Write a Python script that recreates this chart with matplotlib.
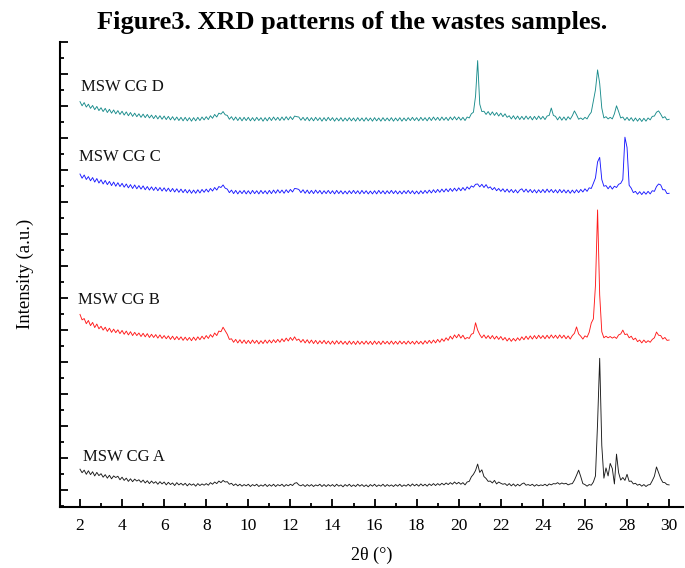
import numpy as np
import matplotlib
matplotlib.use("Agg")
import matplotlib.pyplot as plt
from matplotlib.ticker import MultipleLocator, NullFormatter

plt.rcParams['font.family'] = ['Liberation Serif', 'DejaVu Serif']

# 2-theta sampling (degrees), 2.0 ... 30.0 every 0.1
two_theta = np.round(np.linspace(2.0, 30.0, 281), 2)

sample_names = ["MSW CG A", "MSW CG B", "MSW CG C", "MSW CG D"]
line_colors = ["#1a1a1a", "#ff1a1a", "#1a1aff", "#1a8c8c"]

# Intensities (a.u., stacked as displayed)
msw_cg_a = [
    0.66, 0.55, 0.63, 0.50, 0.61, 0.49, 0.58, 0.45, 0.56, 0.46,
    0.52, 0.41, 0.49, 0.38, 0.47, 0.36, 0.45, 0.40, 0.44, 0.33,
    0.41, 0.31, 0.38, 0.28, 0.36, 0.27, 0.35, 0.29, 0.33, 0.25,
    0.32, 0.23, 0.30, 0.21, 0.29, 0.22, 0.27, 0.19, 0.27, 0.20,
    0.26, 0.17, 0.25, 0.18, 0.23, 0.15, 0.24, 0.17, 0.22, 0.16,
    0.22, 0.14, 0.21, 0.16, 0.20, 0.13, 0.21, 0.15, 0.20, 0.16,
    0.21, 0.16, 0.24, 0.19, 0.26, 0.21, 0.29, 0.24, 0.31, 0.26,
    0.27, 0.19, 0.22, 0.15, 0.20, 0.14, 0.19, 0.13, 0.18, 0.14,
    0.19, 0.12, 0.18, 0.14, 0.19, 0.12, 0.17, 0.13, 0.19, 0.12,
    0.18, 0.13, 0.19, 0.12, 0.18, 0.14, 0.19, 0.12, 0.18, 0.14,
    0.19, 0.15, 0.22, 0.24, 0.17, 0.14, 0.18, 0.12, 0.18, 0.13,
    0.18, 0.12, 0.17, 0.14, 0.19, 0.12, 0.18, 0.12, 0.18, 0.13,
    0.18, 0.12, 0.19, 0.13, 0.17, 0.11, 0.18, 0.13, 0.19, 0.12,
    0.17, 0.12, 0.19, 0.13, 0.18, 0.12, 0.17, 0.11, 0.18, 0.13,
    0.19, 0.12, 0.17, 0.13, 0.19, 0.12, 0.18, 0.13, 0.17, 0.12,
    0.18, 0.13, 0.19, 0.12, 0.17, 0.13, 0.19, 0.13, 0.20, 0.14,
    0.19, 0.13, 0.20, 0.14, 0.19, 0.13, 0.20, 0.15, 0.21, 0.15,
    0.21, 0.16, 0.22, 0.17, 0.23, 0.18, 0.24, 0.19, 0.26, 0.20,
    0.25, 0.19, 0.24, 0.17, 0.26, 0.28, 0.42, 0.50, 0.62, 0.82,
    0.56, 0.64, 0.43, 0.37, 0.28, 0.29, 0.23, 0.31, 0.20, 0.26,
    0.22, 0.19, 0.21, 0.15, 0.21, 0.14, 0.20, 0.13, 0.19, 0.14,
    0.20, 0.23, 0.16, 0.18, 0.15, 0.19, 0.13, 0.18, 0.14, 0.17,
    0.15, 0.19, 0.14, 0.20, 0.17, 0.21, 0.20, 0.24, 0.19, 0.23,
    0.20, 0.22, 0.17, 0.20, 0.21, 0.32, 0.47, 0.63, 0.43, 0.21,
    0.18, 0.13, 0.18, 0.16, 0.26, 0.45, 2.10, 4.12, 1.40, 0.38,
    0.70, 0.45, 0.84, 0.68, 0.20, 1.13, 0.55, 0.32, 0.40, 0.31,
    0.50, 0.28, 0.29, 0.20, 0.22, 0.16, 0.19, 0.13, 0.18, 0.12,
    0.17, 0.18, 0.30, 0.44, 0.73, 0.55, 0.37, 0.25, 0.24, 0.18,
    0.17,
]

msw_cg_b = [
    5.49, 5.32, 5.36, 5.20, 5.30, 5.14, 5.24, 5.08, 5.19, 5.04,
    5.12, 5.00, 5.09, 4.96, 5.06, 4.93, 5.03, 4.92, 5.01, 4.89,
    4.99, 4.87, 4.97, 4.85, 4.95, 4.83, 4.93, 4.83, 4.91, 4.80,
    4.90, 4.79, 4.89, 4.77, 4.87, 4.77, 4.86, 4.75, 4.85, 4.74,
    4.83, 4.73, 4.82, 4.71, 4.81, 4.70, 4.80, 4.70, 4.79, 4.68,
    4.78, 4.68, 4.77, 4.67, 4.78, 4.68, 4.79, 4.70, 4.81, 4.72,
    4.83, 4.74, 4.86, 4.78, 4.91, 4.83, 4.97, 4.95, 5.09, 4.98,
    4.87, 4.71, 4.73, 4.62, 4.71, 4.60, 4.70, 4.59, 4.69, 4.58,
    4.68, 4.58, 4.69, 4.59, 4.68, 4.57, 4.67, 4.58, 4.69, 4.59,
    4.69, 4.60, 4.70, 4.61, 4.71, 4.62, 4.73, 4.64, 4.75, 4.66,
    4.77, 4.68, 4.79, 4.68, 4.72, 4.62, 4.71, 4.60, 4.70, 4.59,
    4.69, 4.58, 4.68, 4.57, 4.67, 4.58, 4.68, 4.57, 4.66, 4.56,
    4.66, 4.56, 4.67, 4.57, 4.66, 4.56, 4.65, 4.55, 4.66, 4.56,
    4.65, 4.55, 4.66, 4.56, 4.65, 4.56, 4.66, 4.56, 4.65, 4.55,
    4.66, 4.56, 4.65, 4.55, 4.66, 4.57, 4.65, 4.56, 4.66, 4.56,
    4.65, 4.56, 4.66, 4.57, 4.65, 4.56, 4.66, 4.57, 4.65, 4.56,
    4.66, 4.57, 4.65, 4.56, 4.67, 4.58, 4.68, 4.59, 4.69, 4.60,
    4.71, 4.62, 4.73, 4.65, 4.76, 4.68, 4.81, 4.72, 4.85, 4.76,
    4.87, 4.75, 4.84, 4.72, 4.77, 4.74, 4.87, 4.90, 5.23, 5.00,
    4.86, 4.76, 4.85, 4.74, 4.83, 4.73, 4.83, 4.72, 4.81, 4.71,
    4.80, 4.69, 4.77, 4.66, 4.75, 4.65, 4.74, 4.66, 4.76, 4.68,
    4.79, 4.70, 4.81, 4.71, 4.82, 4.72, 4.83, 4.73, 4.84, 4.74,
    4.83, 4.73, 4.84, 4.74, 4.85, 4.75, 4.84, 4.74, 4.85, 4.75,
    4.84, 4.73, 4.82, 4.72, 4.83, 4.90, 5.10, 4.88, 4.81, 4.72,
    4.82, 4.78, 4.93, 5.22, 5.35, 6.40, 8.75, 6.10, 4.95, 4.76,
    4.81, 4.76, 4.80, 4.75, 4.79, 4.74, 4.85, 4.88, 5.00, 4.86,
    4.88, 4.76, 4.81, 4.70, 4.75, 4.64, 4.69, 4.60, 4.69, 4.61,
    4.67, 4.62, 4.71, 4.76, 4.94, 4.84, 4.83, 4.72, 4.77, 4.68,
    4.69,
]

msw_cg_c = [
    9.87, 9.74, 9.84, 9.70, 9.79, 9.66, 9.76, 9.62, 9.73, 9.59,
    9.69, 9.56, 9.67, 9.54, 9.64, 9.51, 9.62, 9.49, 9.60, 9.48,
    9.58, 9.46, 9.56, 9.44, 9.54, 9.42, 9.53, 9.41, 9.51, 9.40,
    9.50, 9.38, 9.48, 9.37, 9.47, 9.36, 9.46, 9.35, 9.45, 9.34,
    9.44, 9.33, 9.43, 9.32, 9.42, 9.31, 9.41, 9.30, 9.40, 9.29,
    9.39, 9.28, 9.38, 9.27, 9.37, 9.27, 9.38, 9.28, 9.39, 9.30,
    9.40, 9.31, 9.42, 9.34, 9.45, 9.37, 9.48, 9.45, 9.53, 9.43,
    9.40, 9.29, 9.37, 9.26, 9.36, 9.25, 9.35, 9.26, 9.36, 9.25,
    9.35, 9.25, 9.36, 9.26, 9.35, 9.25, 9.36, 9.26, 9.35, 9.25,
    9.36, 9.26, 9.37, 9.27, 9.38, 9.28, 9.37, 9.27, 9.38, 9.29,
    9.39, 9.31, 9.42, 9.41, 9.39, 9.29, 9.38, 9.27, 9.37, 9.26,
    9.36, 9.26, 9.37, 9.27, 9.36, 9.25, 9.35, 9.26, 9.36, 9.26,
    9.35, 9.25, 9.36, 9.26, 9.35, 9.25, 9.34, 9.25, 9.35, 9.26,
    9.36, 9.26, 9.35, 9.25, 9.36, 9.26, 9.35, 9.25, 9.34, 9.25,
    9.35, 9.25, 9.36, 9.26, 9.35, 9.25, 9.35, 9.26, 9.36, 9.26,
    9.35, 9.25, 9.34, 9.25, 9.35, 9.26, 9.36, 9.26, 9.35, 9.25,
    9.34, 9.25, 9.35, 9.26, 9.36, 9.27, 9.37, 9.28, 9.38, 9.29,
    9.39, 9.30, 9.40, 9.31, 9.41, 9.32, 9.42, 9.33, 9.43, 9.34,
    9.44, 9.35, 9.45, 9.36, 9.47, 9.40, 9.50, 9.46, 9.55, 9.56,
    9.47, 9.55, 9.45, 9.54, 9.43, 9.47, 9.38, 9.45, 9.35, 9.42,
    9.33, 9.41, 9.31, 9.40, 9.30, 9.39, 9.29, 9.38, 9.28, 9.37,
    9.41, 9.31, 9.40, 9.30, 9.39, 9.29, 9.38, 9.28, 9.38, 9.29,
    9.39, 9.29, 9.40, 9.30, 9.39, 9.29, 9.38, 9.28, 9.39, 9.29,
    9.38, 9.28, 9.37, 9.27, 9.37, 9.28, 9.38, 9.29, 9.39, 9.31,
    9.41, 9.33, 9.44, 9.42, 9.58, 9.75, 10.25, 10.39, 9.70, 9.49,
    9.51, 9.41, 9.50, 9.40, 9.49, 9.45, 9.55, 9.58, 9.70, 11.02,
    10.70, 9.52, 9.43, 9.29, 9.33, 9.24, 9.32, 9.23, 9.32, 9.24,
    9.33, 9.25, 9.35, 9.33, 9.48, 9.56, 9.53, 9.38, 9.38, 9.26,
    9.27,
]

msw_cg_d = [
    12.13, 12.00, 12.10, 11.96, 12.05, 11.92, 12.01, 11.88, 11.98, 11.85,
    11.94, 11.82, 11.92, 11.79, 11.89, 11.77, 11.87, 11.75, 11.85, 11.73,
    11.83, 11.71, 11.81, 11.69, 11.79, 11.67, 11.77, 11.66, 11.75, 11.64,
    11.74, 11.63, 11.73, 11.62, 11.71, 11.60, 11.70, 11.59, 11.69, 11.58,
    11.68, 11.57, 11.67, 11.56, 11.66, 11.55, 11.65, 11.54, 11.64, 11.53,
    11.64, 11.53, 11.63, 11.52, 11.63, 11.53, 11.64, 11.54, 11.65, 11.56,
    11.66, 11.57, 11.69, 11.61, 11.73, 11.65, 11.77, 11.74, 11.82, 11.72,
    11.70, 11.58, 11.66, 11.55, 11.65, 11.54, 11.64, 11.53, 11.64, 11.54,
    11.64, 11.53, 11.63, 11.53, 11.64, 11.54, 11.63, 11.52, 11.63, 11.53,
    11.64, 11.54, 11.65, 11.55, 11.64, 11.54, 11.65, 11.55, 11.66, 11.56,
    11.66, 11.57, 11.68, 11.66, 11.65, 11.55, 11.64, 11.54, 11.64, 11.53,
    11.63, 11.53, 11.64, 11.54, 11.63, 11.52, 11.63, 11.53, 11.64, 11.54,
    11.63, 11.52, 11.62, 11.53, 11.63, 11.52, 11.62, 11.53, 11.63, 11.53,
    11.62, 11.52, 11.63, 11.53, 11.62, 11.52, 11.63, 11.53, 11.62, 11.52,
    11.63, 11.53, 11.62, 11.52, 11.63, 11.53, 11.62, 11.53, 11.63, 11.52,
    11.62, 11.53, 11.63, 11.52, 11.62, 11.53, 11.63, 11.54, 11.64, 11.54,
    11.63, 11.53, 11.64, 11.54, 11.63, 11.53, 11.64, 11.54, 11.65, 11.55,
    11.64, 11.54, 11.65, 11.55, 11.64, 11.54, 11.65, 11.56, 11.66, 11.56,
    11.65, 11.55, 11.64, 11.54, 11.65, 11.62, 11.75, 11.80, 12.30, 13.41,
    12.05, 11.82, 11.83, 11.73, 11.82, 11.71, 11.81, 11.70, 11.79, 11.68,
    11.77, 11.66, 11.75, 11.64, 11.69, 11.59, 11.69, 11.58, 11.68, 11.57,
    11.67, 11.57, 11.68, 11.58, 11.67, 11.56, 11.67, 11.57, 11.68, 11.58,
    11.67, 11.57, 11.68, 11.70, 11.93, 11.70, 11.67, 11.56, 11.66, 11.55,
    11.65, 11.55, 11.66, 11.58, 11.69, 11.84, 11.72, 11.58, 11.62, 11.57,
    11.64, 11.59, 11.71, 11.80, 12.15, 12.50, 13.12, 12.70, 11.93, 11.62,
    11.66, 11.59, 11.64, 11.59, 11.75, 12.00, 11.82, 11.62, 11.65, 11.55,
    11.64, 11.54, 11.63, 11.52, 11.62, 11.52, 11.61, 11.51, 11.61, 11.52,
    11.62, 11.56, 11.67, 11.68, 11.80, 11.84, 11.74, 11.62, 11.66, 11.56,
    11.58,
]

label_x = [2.14, 1.90, 1.95, 2.05]
label_y = [1.05, 5.94, 10.41, 12.60]

fig = plt.figure(figsize=(6.85, 5.68), dpi=100)
ax = fig.add_axes([60 / 685, 61 / 568, 623 / 685, 465.3 / 568])

series = [msw_cg_a, msw_cg_b, msw_cg_c, msw_cg_d]
for vals, col, name, lx, ly in zip(series, line_colors, sample_names, label_x, label_y):
    ax.plot(two_theta, vals, color=col, lw=0.65)
    ax.text(lx, ly, name, fontsize=12, va='center', ha='left', color='#111111')

ax.set_xlim(1.05, 30.66)
ax.set_ylim(-0.52, 14.0)

for side in ('top', 'right'):
    ax.spines[side].set_visible(False)
for side in ('left', 'bottom'):
    ax.spines[side].set_linewidth(1.5)

ax.xaxis.set_major_locator(MultipleLocator(2))
ax.xaxis.set_minor_locator(MultipleLocator(1))
ax.yaxis.set_major_locator(MultipleLocator(1))
ax.yaxis.set_minor_locator(MultipleLocator(0.5))
ax.yaxis.set_major_formatter(NullFormatter())
ax.tick_params(which='major', direction='in', length=6, width=1.3, labelsize=12.5, pad=8)
ax.tick_params(which='minor', direction='in', length=3, width=1.3)

ax.set_xlabel('2θ (°)', fontsize=13, labelpad=9)
ax.set_ylabel('Intensity (a.u.)', fontsize=13.5, labelpad=11)

fig.text(0.514, 1 - 22 / 568, 'Figure3. XRD patterns of the wastes samples.',
         fontsize=19, fontweight='bold', ha='center', va='center')

fig.savefig('out.png', dpi=100)
